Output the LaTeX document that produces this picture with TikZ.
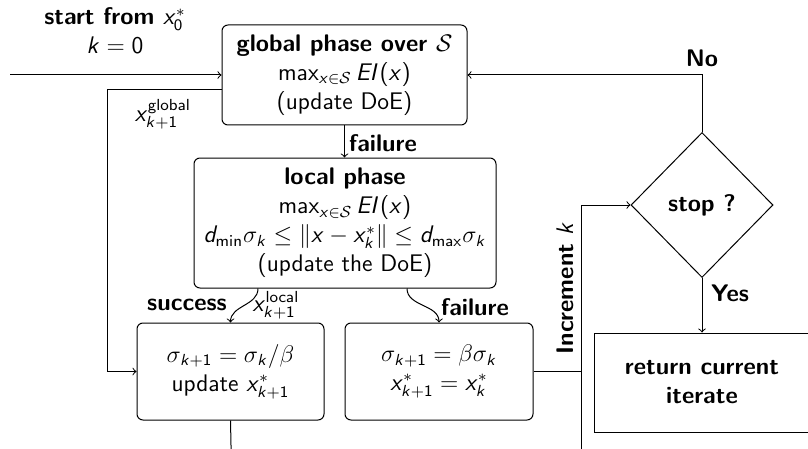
\documentclass[tikz,border=0pt]{standalone}
\usetikzlibrary{shapes.geometric,calc}
\DeclareSymbolFont{sfit}{OT1}{cmss}{m}{sl}
\SetSymbolFont{operators}{normal}{OT1}{cmss}{m}{n}
\SetSymbolFont{operators}{bold}{OT1}{cmss}{bx}{n}
\DeclareMathSymbol{x}{\mathalpha}{sfit}{`x}
\DeclareMathSymbol{k}{\mathalpha}{sfit}{`k}
\DeclareMathSymbol{d}{\mathalpha}{sfit}{`d}
\DeclareMathSymbol{E}{\mathalpha}{sfit}{`E}
\DeclareMathSymbol{I}{\mathalpha}{sfit}{`I}
\begin{document}
\begin{tikzpicture}[x=0.5pt,y=-0.5pt,
  font=\sffamily\fontsize{12}{14.5}\selectfont,
  every path/.style={line width=0.5pt},
  rbox/.style={draw,rounded corners=3pt,align=center,inner sep=0pt},
  lab/.style={font=\sffamily\bfseries\fontsize{12}{14.5}\selectfont,align=center,inner sep=0pt},
  txt/.style={align=center,inner sep=0pt},
  >=to]
\useasboundingbox (0,0) rectangle (808,449);
% nodes
\node[rbox,minimum width=122.5pt,minimum height=50pt] (glob) at (344.5,75)
  {\textbf{global phase over $\mathcal{S}$}\\ $\max_{x\in\mathcal{S}} EI(x)$\\ (update DoE)};
\node[rbox,minimum width=151pt,minimum height=65pt] (loc) at (345,223)
  {\textbf{local phase}\\ $\max_{x\in\mathcal{S}} EI(x)$\\
   $d_{\mathrm{min}}\sigma_k \le \|x-x_k^*\| \le d_{\mathrm{max}}\sigma_k$\\ (update the DoE)};
\node[rbox,minimum width=93.5pt,minimum height=48.5pt] (succ) at (230.5,371.5)
  {$\sigma_{k+1}=\sigma_k/\beta$\\ update $x_{k+1}^*$};
\node[rbox,minimum width=94pt,minimum height=48.5pt] (fail) at (439,371.5)
  {$\sigma_{k+1}=\beta\sigma_k$\\ $x_{k+1}^*=x_k^*$};
\node[draw,diamond,aspect=1,minimum width=71pt,minimum height=72.5pt,inner sep=0pt,
  font=\sffamily\bfseries\fontsize{12}{14.5}\selectfont] (stop) at (702,205) {stop ?};
\node[draw,minimum width=108pt,minimum height=49.5pt,align=center,inner sep=0pt,
  font=\sffamily\bfseries\fontsize{12}{14.5}\selectfont] (ret) at (702,382.5) {return current\\ iterate};
% labels
\node[lab] (startlab) at (115,31) {start from $x_0^*$\\ \mdseries $k=0$};
\node[txt] (glab) at (163,114) {$x_{k+1}^{\mathrm{global}}$};
\node[lab] (flab1) at (383,143) {failure};
\node[lab] (slab) at (187,305) {success};
\node[txt] (llab) at (276,305) {$x_{k+1}^{\mathrm{local}}$};
\node[lab] (flab2) at (475,307) {failure};
\node[lab,rotate=90] (inc) at (565,288) {Increment \mdseries $k$};
\node[lab] (nolab) at (702,58) {No};
\node[lab] (yeslab) at (730,293) {Yes};
% coordinates
\coordinate (st) at (10,75);
\coordinate (gl) at (107,90);
\coordinate (sb) at (231.5,470);
\coordinate (vb) at (581,470);
\coordinate (vt) at (581,205);
% connectors
\draw[->] (st) -- (glob.west);
\draw[->] ([yshift=-7.5pt]glob.west) -- (gl) |- (succ.west);
\draw[->] (glob.south) -- (glob.south |- loc.north);
\draw[->] ([xshift=-43.5pt]loc.south) to[out=-90,in=90] (succ.north);
\draw[->] ([xshift=31pt]loc.south) to[out=-90,in=90] (fail.north);
\draw (succ.south) -- (sb);
\draw (fail.east) -- (fail.east -| vt);
\draw[->] (vb) -- (vt) -- (stop.west);
\draw[->] (stop.south) -- (ret.north);
\draw[->] (stop.north) |- (glob.east);
\end{tikzpicture}
\end{document}
